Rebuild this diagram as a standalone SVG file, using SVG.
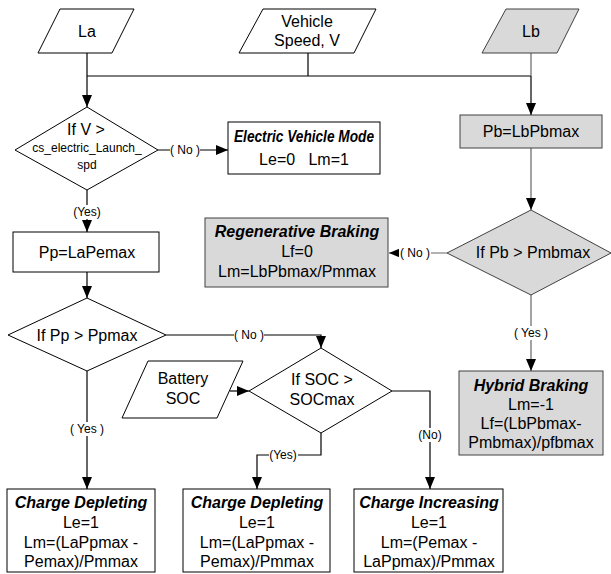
<svg xmlns="http://www.w3.org/2000/svg" width="611" height="574" viewBox="0 0 611 574">
<defs>
<marker id="arr" markerUnits="userSpaceOnUse" markerWidth="12" markerHeight="10" refX="12" refY="5" orient="auto">
<path d="M0,0 L12,5 L0,10 z" fill="#000"/>
</marker>
<style>
text{font-family:"Liberation Sans",Arial,sans-serif;font-size:16px;fill:#000;text-anchor:middle}
.t{font-weight:bold;font-style:italic}
.s{font-size:12px}
.lb{font-size:12px}
.w{fill:#fff;stroke:none}
.n{fill:#fff;stroke:#000;stroke-width:1}
.g{fill:#d9d9d9;stroke:#404040;stroke-width:1}
.c{fill:none;stroke:#000;stroke-width:1.2}
.cg{fill:none;stroke:#666;stroke-width:1.2}
</style>
</defs>
<rect width="611" height="574" fill="#fff"/>

<g id="connectors">
<path class="c" d="M87,53 V76 M87,76 H531 M308,53 V76"/>
<path class="cg" d="M531,53 V76"/>
<path class="c" d="M87,76 V107" marker-end="url(#arr)"/>
<path class="c" d="M531,76 V115" marker-end="url(#arr)"/>
<path class="c" d="M158,150 H228" marker-end="url(#arr)"/>
<path class="c" d="M87,190 V232" marker-end="url(#arr)"/>
<path class="c" d="M87,272 V298" marker-end="url(#arr)"/>
<path class="c" d="M166,335 H321 V348" marker-end="url(#arr)"/>
<path class="c" d="M87,371 V489" marker-end="url(#arr)"/>
<path class="c" d="M230,391 H249" marker-end="url(#arr)"/>
<path class="c" d="M321,433 V455 H257 V489" marker-end="url(#arr)"/>
<path class="c" d="M392,391 H430 V489" marker-end="url(#arr)"/>
<path class="cg" d="M531,148 V210" marker-end="url(#arr)"/>
<path class="cg" d="M447,253 H389" marker-end="url(#arr)"/>
<path class="cg" d="M531,295 V371" marker-end="url(#arr)"/>
<rect class="w" x="170" y="143" width="30" height="14"/>
<text class="lb" x="185" y="154">( No )</text>
<rect class="w" x="72" y="205" width="30" height="14"/>
<text class="lb" x="87" y="216">(Yes)</text>
<rect class="w" x="234" y="328" width="30" height="14"/>
<text class="lb" x="249" y="339">( No )</text>
<rect class="w" x="70" y="422" width="34" height="14"/>
<text class="lb" x="87" y="433">( Yes )</text>
<rect class="w" x="269" y="448" width="29" height="14"/>
<text class="lb" x="283" y="459">(Yes)</text>
<rect class="w" x="417" y="428" width="26" height="14"/>
<text class="lb" x="430" y="439">(No)</text>
<rect class="w" x="399" y="246" width="32" height="14"/>
<text class="lb" x="415" y="257">( No )</text>
<rect class="w" x="514" y="326" width="34" height="14"/>
<text class="lb" x="531" y="337">( Yes )</text>
</g>

<g id="La">
<polygon class="n" points="60,9 134,9 112,53 38,53"/>
<text x="87" y="37">La</text>
</g>
<g id="VehicleSpeed">
<polygon class="n" points="263,9 376,9 354,53 239,53"/>
<text x="307" y="27">Vehicle</text>
<text x="307" y="46">Speed, V</text>
</g>
<g id="Lb">
<polygon class="g" points="506,9 579,9 557,53 482,53"/>
<text x="531" y="37">Lb</text>
</g>

<g id="CheckV">
<polygon class="n" points="87,107 158,150 87,190 15,150"/>
<text x="86" y="135">If V &gt;</text>
<text class="s" x="87" y="152">cs_electric_Launch_</text>
<text class="s" x="87" y="169">spd</text>
</g>
<g id="ElectricMode">
<rect class="n" x="228" y="122" width="152" height="52"/>
<text class="t" x="304" y="142" textLength="140" lengthAdjust="spacingAndGlyphs">Electric Vehicle Mode</text>
<text x="304" y="165" xml:space="preserve">Le=0   Lm=1</text>
</g>
<g id="Pp">
<rect class="n" x="13" y="232" width="146" height="40"/>
<text x="87" y="258">Pp=LaPemax</text>
</g>
<g id="CheckPp">
<polygon class="n" points="87,298 166,335 87,371 8,335"/>
<text x="87" y="341">If Pp &gt; Ppmax</text>
</g>
<g id="BatterySOC">
<polygon class="n" points="148,361 243,361 217,418 122,418"/>
<text x="183" y="384">Battery</text>
<text x="183" y="404">SOC</text>
</g>
<g id="CheckSOC">
<polygon class="n" points="321,348 392,391 321,433 249,391"/>
<text x="322" y="385">If SOC &gt;</text>
<text x="322" y="405">SOCmax</text>
</g>

<g id="Pb">
<rect class="g" x="460" y="115" width="142" height="33"/>
<text x="531" y="137">Pb=LbPbmax</text>
</g>
<g id="CheckPb">
<polygon class="g" points="531,210 611,253 531,295 447,253"/>
<text x="533" y="258">If Pb &gt; Pmbmax</text>
</g>
<g id="Regen">
<rect class="g" x="205" y="218" width="183" height="69"/>
<text class="t" x="297" y="237">Regenerative Braking</text>
<text x="297" y="257">Lf=0</text>
<text x="297" y="277">Lm=LbPbmax/Pmmax</text>
</g>
<g id="Hybrid">
<rect class="g" x="459" y="371" width="144" height="84"/>
<text class="t" x="531" y="391">Hybrid Braking</text>
<text x="531" y="410">Lm=-1</text>
<text x="531" y="429">Lf=(LbPbmax-</text>
<text x="531" y="448">Pmbmax)/pfbmax</text>
</g>

<g id="ChargeDepleting1">
<rect class="n" x="7" y="489" width="148" height="83"/>
<text class="t" x="81" y="508">Charge Depleting</text>
<text x="81" y="528">Le=1</text>
<text x="81" y="548">Lm=(LaPpmax -</text>
<text x="81" y="567">Pemax)/Pmmax</text>
</g>
<g id="ChargeDepleting2">
<rect class="n" x="183" y="489" width="147" height="83"/>
<text class="t" x="257" y="508">Charge Depleting</text>
<text x="257" y="528">Le=1</text>
<text x="257" y="548">Lm=(LaPpmax -</text>
<text x="257" y="567">Pemax)/Pmmax</text>
</g>
<g id="ChargeIncreasing">
<rect class="n" x="354" y="489" width="149" height="83"/>
<text class="t" x="429" y="508">Charge Increasing</text>
<text x="429" y="528">Le=1</text>
<text x="429" y="548">Lm=(Pemax -</text>
<text x="429" y="567">LaPpmax)/Pmmax</text>
</g>
</svg>
